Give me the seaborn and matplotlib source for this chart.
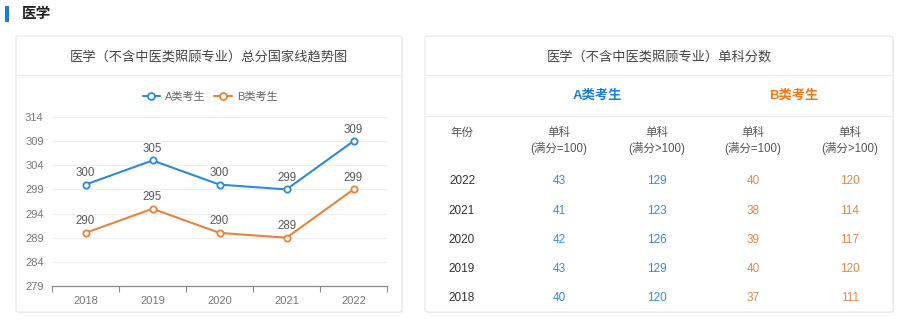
import matplotlib
matplotlib.use("Agg")
import matplotlib.pyplot as plt
from matplotlib.patches import FancyBboxPatch, Rectangle
from matplotlib.lines import Line2D
import seaborn as sns
import pandas as pd

sns.set_theme(style="white")
plt.rcParams["font.family"] = ["Liberation Sans", "Noto Sans CJK SC", "DejaVu Sans"]

# ---- data ----
years = ["2018", "2019", "2020", "2021", "2022"]
score_a = [300, 305, 300, 299, 309]
score_b = [290, 295, 290, 289, 299]
series_names = ["A类考生", "B类考生"]
y_ticks = [279, 284, 289, 294, 299, 304, 309, 314]

table_years = ["2022", "2021", "2020", "2019", "2018"]
a_single_100 = [43, 41, 42, 43, 40]
a_single_over = [129, 123, 126, 129, 120]
b_single_100 = [40, 38, 39, 40, 37]
b_single_over = [120, 114, 117, 120, 111]

section_title = "医学"
chart_title = "医学（不含中医类照顾专业）总分国家线趋势图"
table_title = "医学（不含中医类照顾专业）单科分数"
col_year = "年份"
col_sub = "单科"
col_full = "(满分=100)"
col_over = "(满分>100)"

BLUE = "#2f8ad6"
ORANGE = "#e5843a"
HEAD_BLUE = "#1c7fd6"
HEAD_ORANGE = "#f07a1a"
GRAY_TXT = "#5a5a5a"

W, H = 900, 322
fig = plt.figure(figsize=(9, 3.22), dpi=100)
fig.patch.set_facecolor("white")


def fx(px):
    return px / W


def fy(py):
    return 1 - py / H


# ---- section header ----
fig.patches.append(Rectangle((fx(5), fy(22)), fx(4), 16 / H, transform=fig.transFigure,
                             facecolor="#1a7fd4", edgecolor="none"))
fig.text(fx(22), fy(14), section_title, fontsize=10.5, fontweight="bold",
         color="#222222", va="center", ha="left")

# ---- cards ----
for x0, x1 in [(16, 402), (425, 893)]:
    shadow = FancyBboxPatch((fx(x0 + 1), fy(313)), fx(x1 - x0), (313 - 37) / H,
                            boxstyle="round,pad=0,rounding_size=0.004",
                            transform=fig.transFigure, facecolor="#f2f2f2",
                            edgecolor="none", zorder=-3)
    card = FancyBboxPatch((fx(x0), fy(312)), fx(x1 - x0), (312 - 36) / H,
                          boxstyle="round,pad=0,rounding_size=0.004",
                          transform=fig.transFigure, facecolor="white",
                          edgecolor="#e6e6e6", linewidth=0.8, zorder=-2)
    fig.patches.extend([shadow, card])
    fig.lines.append(Line2D([fx(x0 + 1), fx(x1 - 1)], [fy(75), fy(75)],
                            transform=fig.transFigure, color="#ececec", lw=0.8,
                            zorder=-1))

fig.lines.append(Line2D([fx(426), fx(892)], [fy(116), fy(116)],
                        transform=fig.transFigure, color="#ececec", lw=0.8,
                        zorder=-1))

fig.text(fx(209), fy(57), chart_title, fontsize=9.5, color="#444444",
         ha="center", va="center")
fig.text(fx(659), fy(57), table_title, fontsize=9.5, color="#444444",
         ha="center", va="center")

# ---- line chart ----
ax = fig.add_axes([fx(52), fy(286), fx(387 - 52), (286 - 117) / H])
df = pd.DataFrame({
    "年份": list(range(len(years))) * 2,
    "分数": score_a + score_b,
    "类别": [series_names[0]] * len(years) + [series_names[1]] * len(years),
})
sns.lineplot(data=df, x="年份", y="分数", hue="类别", palette=[BLUE, ORANGE],
             marker="o", markersize=4.5, markerfacecolor="white",
             markeredgewidth=1.3, linewidth=1.5, ax=ax, legend=False)
for line, c in zip(ax.lines, [BLUE, ORANGE]):
    line.set_markeredgecolor(c)

for vals in (score_a, score_b):
    for i, v in enumerate(vals):
        ax.annotate(str(v), (i, v), xytext=(0, 4), textcoords="offset points",
                    ha="center", va="bottom", fontsize=8.3, color=GRAY_TXT)

ax.set_xlim(-0.5, len(years) - 0.5)
ax.set_ylim(y_ticks[0], y_ticks[-1])
ax.set_yticks(y_ticks)
ax.set_yticklabels([str(t) for t in y_ticks], fontsize=8, color="#777777")
ax.set_xticks(range(len(years)))
ax.set_xticklabels(years, fontsize=8, color="#777777")
ax.set_xticks([i - 0.5 for i in range(len(years) + 1)], minor=True)
ax.tick_params(axis="x", which="major", bottom=False, length=0, pad=7)
ax.tick_params(axis="x", which="minor", bottom=True, length=4, width=0.8,
               color="#8a8a8a", direction="out")
ax.tick_params(axis="y", left=False, length=0, pad=6)
ax.grid(axis="y", color="#eeeeee", linewidth=0.8)
ax.set_axisbelow(True)
for s in ["top", "right", "left"]:
    ax.spines[s].set_visible(False)
ax.spines["bottom"].set_color("#8a8a8a")
ax.spines["bottom"].set_linewidth(0.9)
ax.set_xlabel("")
ax.set_ylabel("")
ax.patch.set_alpha(0)

handles = [Line2D([], [], color=c, lw=1.5, marker="o", markersize=5,
                  markerfacecolor="white", markeredgewidth=1.3, markeredgecolor=c)
           for c in (BLUE, ORANGE)]
fig.legend(handles, series_names, loc="center", bbox_to_anchor=(fx(210), fy(97)),
           ncol=2, frameon=False, fontsize=8, handlelength=1.6, handletextpad=0.4,
           columnspacing=0.8, labelcolor="#666666")

# ---- score table ----
fig.text(fx(597), fy(96), series_names[0], fontsize=9.5, fontweight="bold",
         color=HEAD_BLUE, ha="center", va="center")
fig.text(fx(794), fy(96), series_names[1], fontsize=9.5, fontweight="bold",
         color=HEAD_ORANGE, ha="center", va="center")

col_x = [462, 559, 657, 753, 850]
fig.text(fx(col_x[0]), fy(133), col_year, fontsize=8.3, color="#555555",
         ha="center", va="center")
for cx, sub in zip(col_x[1:], [col_full, col_over, col_full, col_over]):
    fig.text(fx(cx), fy(133), col_sub, fontsize=8.3, color="#555555",
             ha="center", va="center")
    fig.text(fx(cx), fy(149), sub, fontsize=8.3, color="#555555",
             ha="center", va="center")

row_y = [181, 211, 240, 269, 298]
cols = [a_single_100, a_single_over, b_single_100, b_single_over]
col_colors = ["#3b8dd0", "#3b8dd0", "#e0874a", "#e0874a"]
for r, ry in enumerate(row_y):
    fig.text(fx(col_x[0]), fy(ry), table_years[r], fontsize=8.5, color="#333333",
             ha="center", va="center")
    for cx, vals, c in zip(col_x[1:], cols, col_colors):
        fig.text(fx(cx), fy(ry), str(vals[r]), fontsize=8.5, color=c,
                 ha="center", va="center")

fig.savefig("out.png", dpi=100, facecolor="white")
